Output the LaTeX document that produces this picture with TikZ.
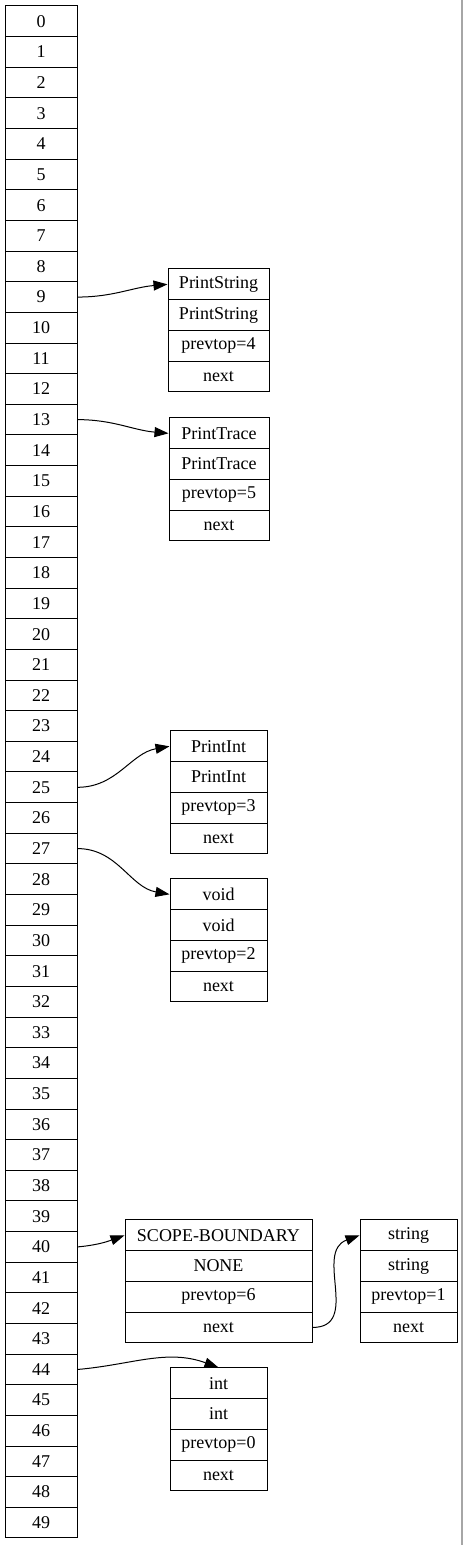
\documentclass[tikz,border=0pt]{standalone}
\usepackage{fontspec}
\setmainfont{Liberation Serif}
\usetikzlibrary{arrows.meta}
\tikzset{
    cell/.style={draw, line width=1pt, minimum width=72pt, minimum height=30.64pt, inner sep=0pt, font=\fontsize{18}{20}\selectfont},
    field/.style={draw, line width=1pt, minimum height=30.7pt, inner sep=0pt, font=\fontsize{18}{20}\selectfont},
    link/.style={line width=1pt, -{Triangle[length=14pt,width=10pt]}}
}
%% name, x centre, top, width, fields
\newcommand{\recordbox}[5]{%
    \foreach \t [count=\k] in {#5} {
        \node[field, minimum width=#4pt] (#1-\k) at (#2, {1545-#3-30.7*(\k-0.5)}) {\t};
    }%
}
\begin{document}
\begin{tikzpicture}[x=1pt,y=1pt]
        \useasboundingbox (0,0) rectangle (463,1545);
        %% Stack slots
        \foreach \i in {0,...,49} {
            \node[cell] (s\i) at (41,{1523.68-30.64*\i}) {\i};
        }
        %% Records
        \recordbox{printstring}{218.5}{269}{101}{PrintString,PrintString,prevtop=4,next}
        \recordbox{printtrace}{219}{418}{100}{PrintTrace,PrintTrace,prevtop=5,next}
        \recordbox{printint}{218.5}{731}{97}{PrintInt,PrintInt,prevtop=3,next}
        \recordbox{void}{218.5}{879}{97}{void,void,prevtop=2,next}
        \recordbox{scope}{218.5}{1220}{187}{SCOPE-BOUNDARY,NONE,prevtop=6,next}
        \recordbox{string}{408.5}{1220}{97}{string,string,prevtop=1,next}
        \recordbox{int}{218.5}{1368}{97}{int,int,prevtop=0,next}
        %% Links
        \draw[link] (s9.east) to[out=0,in=185] (printstring-1.west);
        \draw[link] (s13.east) to[out=0,in=175] (printtrace-1.west);
        \draw[link] (s25.east) to[out=0,in=190] (printint-1.west);
        \draw[link] (s27.east) to[out=0,in=170] (void-1.west);
        \draw[link] (s40.east) to[out=5,in=200] (scope-1.west);
        \draw[link] (scope-4.east) to[out=0,in=200,looseness=1.2] (string-1.west);
        \draw[link] (s44.east) to[out=5,in=160] (int-1.north);
        %% Page edge
        \draw[gray!70, line width=2pt] (461.5,0) -- (461.5,1545);
    \end{tikzpicture}
\end{document}
